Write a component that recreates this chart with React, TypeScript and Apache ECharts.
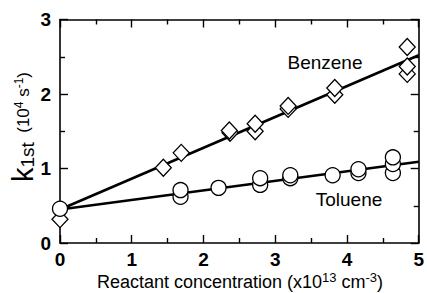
import React, { useEffect, useRef } from "react";
import * as echarts from "echarts";

const xTicks = [0, 1, 2, 3, 4, 5];
const yTicks = [0, 1, 2, 3];

const benzenePoints: [number, number][] = [
  [0, 0.32],
  [1.44, 1.01],
  [1.69, 1.21],
  [2.37, 1.48],
  [2.36, 1.51],
  [2.72, 1.5],
  [2.72, 1.6],
  [3.18, 1.8],
  [3.18, 1.84],
  [3.83, 1.99],
  [3.83, 2.08],
  [4.84, 2.27],
  [4.84, 2.37],
  [4.84, 2.63],
];

const toluenePoints: [number, number][] = [
  [0, 0.46],
  [1.68, 0.62],
  [1.68, 0.71],
  [2.21, 0.74],
  [2.79, 0.78],
  [2.79, 0.87],
  [3.21, 0.87],
  [3.21, 0.91],
  [3.8, 0.91],
  [4.16, 0.94],
  [4.16, 0.99],
  [4.64, 0.94],
  [4.64, 1.06],
  [4.64, 1.15],
];

const benzeneFit: [number, number][] = [
  [0, 0.45],
  [5, 2.52],
];
const tolueneFit: [number, number][] = [
  [0, 0.45],
  [5, 1.09],
];

const FONT = "Liberation Sans, Arial, Helvetica, sans-serif";

export default function App() {
  const ref = useRef<HTMLDivElement>(null);
  useEffect(() => {
    if (!ref.current) return;
    const chart = echarts.init(ref.current, undefined, { renderer: "svg" });
    const axisCommon = {
      axisLine: { show: true, onZero: false, lineStyle: { color: "#000", width: 1.6 } },
      axisTick: { show: true, inside: true, length: 8, lineStyle: { color: "#000", width: 1.4 } },
      minorTick: { show: true, splitNumber: 2, length: 5, lineStyle: { color: "#000", width: 1.4 } },
      splitLine: { show: false },
    };
    chart.setOption({
      animation: false,
      backgroundColor: "#fff",
      grid: { left: 60, right: 6, top: 19.5, bottom: 50, containLabel: false },
      xAxis: [
        {
          type: "value",
          min: 0,
          max: 5,
          interval: 1,
          position: "bottom",
          ...axisCommon,
          axisLabel: {
            color: "#000",
            fontSize: 19,
            fontWeight: "bold",
            fontFamily: FONT,
            margin: 7,
            formatter: (v: number) => (xTicks.includes(v) ? String(v) : ""),
          },
        },
        {
          type: "value",
          min: 0,
          max: 5,
          interval: 1,
          position: "top",
          ...axisCommon,
          axisLabel: { show: false },
        },
      ],
      yAxis: [
        {
          type: "value",
          min: 0,
          max: 3,
          interval: 1,
          position: "left",
          ...axisCommon,
          axisLabel: {
            color: "#000",
            fontSize: 19,
            fontWeight: "bold",
            fontFamily: FONT,
            margin: 9,
            formatter: (v: number) => (yTicks.includes(v) ? String(v) : ""),
          },
        },
        {
          type: "value",
          min: 0,
          max: 3,
          interval: 1,
          position: "right",
          ...axisCommon,
          axisLabel: { show: false },
        },
      ],
      graphic: [
        {
          type: "text",
          x: 240,
          y: 282,
          style: {
            text: "Reactant concentration (x10{sup|13} cm{sup|-3})",
            fontSize: 18,
            fontFamily: FONT,
            fill: "#000",
            align: "center",
            verticalAlign: "middle",
            rich: {
              sup: { fontSize: 13, fontFamily: FONT, fill: "#000", padding: [0, 0, 9, 0] },
            },
          },
        },
        {
          type: "text",
          x: 23,
          y: 127,
          rotation: Math.PI / 2,
          style: {
            text: "{k|k}{sub|1st}  (10{sup|4} s{sup|-1})",
            fontSize: 17,
            fontFamily: FONT,
            fill: "#000",
            align: "center",
            verticalAlign: "middle",
            rich: {
              k: { fontSize: 29, fontFamily: FONT, fill: "#000" },
              sub: { fontSize: 19, fontFamily: FONT, fill: "#000", padding: [9, 0, 0, 0] },
              sup: { fontSize: 12, fontFamily: FONT, fill: "#000", padding: [0, 0, 9, 0] },
            },
          },
        },
        {
          type: "text",
          x: 325,
          y: 62,
          style: {
            text: "Benzene",
            fontSize: 19,
            fontFamily: FONT,
            fill: "#000",
            align: "center",
            verticalAlign: "middle",
          },
        },
        {
          type: "text",
          x: 349,
          y: 199,
          style: {
            text: "Toluene",
            fontSize: 19,
            fontFamily: FONT,
            fill: "#000",
            align: "center",
            verticalAlign: "middle",
          },
        },
      ],
      series: [
        {
          type: "line",
          data: benzeneFit,
          symbol: "none",
          lineStyle: { color: "#000", width: 2.6 },
          z: 2,
        },
        {
          type: "line",
          data: tolueneFit,
          symbol: "none",
          lineStyle: { color: "#000", width: 2.6 },
          z: 2,
        },
        {
          type: "scatter",
          data: benzenePoints,
          symbol: "diamond",
          symbolSize: [16, 17],
          itemStyle: { color: "#fff", borderColor: "#000", borderWidth: 1.3, opacity: 1 },
          z: 3,
        },
        {
          type: "scatter",
          data: toluenePoints,
          symbol: "circle",
          symbolSize: 15,
          itemStyle: { color: "#fff", borderColor: "#000", borderWidth: 1.3, opacity: 1 },
          z: 3,
        },
      ],
    });
    return () => chart.dispose();
  }, []);
  return (
    <div
      ref={ref}
      style={{ position: "fixed", left: 0, top: 0, width: 427, height: 293, background: "#fff" }}
    />
  );
}
